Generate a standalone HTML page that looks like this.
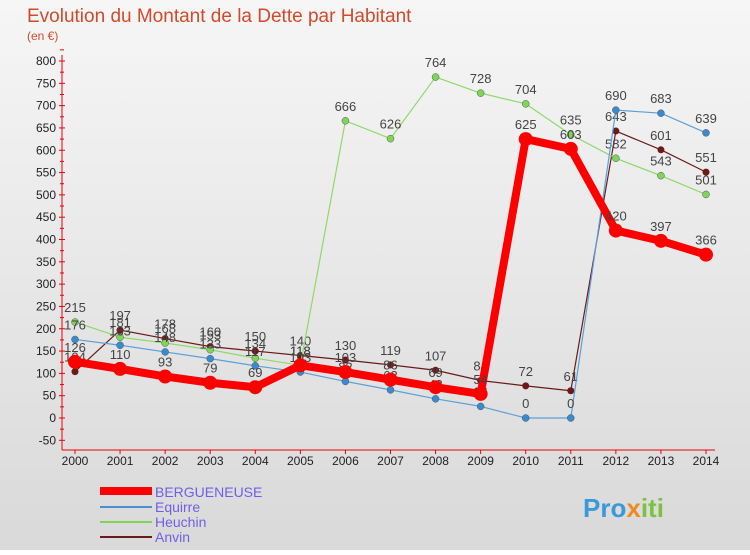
<!DOCTYPE html>
<html><head><meta charset="utf-8"><style>
body{margin:0;width:750px;height:550px;overflow:hidden;font-family:"Liberation Sans",sans-serif}
svg text{font-family:"Liberation Sans",sans-serif}
</style></head><body>
<svg id="c" width="750" height="550">
<defs><linearGradient id="bg" x1="0" y1="0" x2="0" y2="1"><stop offset="0" stop-color="#f6f6f6"/><stop offset="1" stop-color="#d9d9d9"/></linearGradient></defs>
<rect width="750" height="550" fill="url(#bg)"/>
<text x="27" y="22" font-size="19" fill="#d34a2a">Evolution du Montant de la Dette par Habitant</text>
<text x="27" y="40" font-size="12" fill="#d34a2a">(en €)</text>
<g id="axes"></g><g id="series"></g>
<g>
<rect x="100" y="487" width="52" height="8" fill="#f00"/>
<text x="155" y="497" font-size="14" fill="#6f5fe6">BERGUENEUSE</text>
<rect x="100" y="506" width="52" height="2" fill="#4a90d0"/>
<text x="155" y="512" font-size="14" fill="#6f5fe6">Equirre</text>
<rect x="100" y="521" width="52" height="2" fill="#7fd45a"/>
<text x="155" y="527" font-size="14" fill="#6f5fe6">Heuchin</text>
<rect x="100" y="536" width="52" height="2" fill="#6b1a1a"/>
<text x="155" y="542" font-size="14" fill="#6f5fe6">Anvin</text>
</g>
<text x="583" y="517" font-size="26" font-weight="bold" fill="#3a9ad9">Pro<tspan fill="#f08a1c">x</tspan><tspan fill="#7cc242">iti</tspan></text>
</svg>
<script>
const years=["2000","2001","2002","2003","2004","2005","2006","2007","2008","2009","2010","2011","2012","2013","2014"];
const bergueneuse=[126,110,93,79,69,118,103,86,69,54,625,603,420,397,366];
const equirre=[176,163,148,133,117,103,82,63,43,26,0,0,690,683,639];
const heuchin=[215,181,168,153,134,118,666,626,764,728,704,635,582,543,501];
const anvin=[104,197,178,160,150,140,130,119,107,84,72,61,643,601,551];
const yTicks=[-50,0,50,100,150,200,250,300,350,400,450,500,550,600,650,700,750,800];
const NS="http://www.w3.org/2000/svg";
const x=i=>75+i*(631/14);
const y=v=>418-v*(357/800);
function mk(p,t,a){const e=document.createElementNS(NS,t);for(const k in a)e.setAttribute(k,a[k]);p.appendChild(e);return e;}
const ax=document.getElementById('axes'),sg=document.getElementById('series');
mk(ax,'line',{x1:62,y1:55,x2:62,y2:450,stroke:'#e00','stroke-width':1});
mk(ax,'line',{x1:62,y1:450,x2:715,y2:450,stroke:'#e00','stroke-width':1});
yTicks.forEach(v=>{
 const t=mk(ax,'text',{x:56,y:y(v)+4,'font-size':12,fill:'#222','text-anchor':'end'});
 t.textContent=v;
 
 
 mk(ax,'line',{x1:59,y1:y(v),x2:65,y2:y(v),stroke:'#e00'});
 mk(ax,'line',{x1:60,y1:y(v+25),x2:64,y2:y(v+25),stroke:'#e00'});
});
years.forEach((yr,i)=>{
 const t=mk(ax,'text',{x:x(i),y:465,'font-size':12,fill:'#222','text-anchor':'middle'});
 t.textContent=yr;
 
 
 mk(ax,'line',{x1:x(i),y1:450,x2:x(i),y2:454,stroke:'#e00'});
});
function draw(arr,name,col,w,r,dot){
 const g=mk(sg,'g',{});
 
 
 const l=mk(g,'polyline',{points:arr.map((v,i)=>x(i)+','+y(v)).join(' '),fill:'none',stroke:col,'stroke-width':w,'stroke-linejoin':'round'});
 
 
 arr.forEach((v,i)=>{
  const c=mk(g,'circle',{cx:x(i),cy:y(v),r:r,fill:dot,stroke:col==dot?'none':'#555','stroke-width':0.5});
  
  
  const t=mk(g,'text',{x:x(i),y:y(v)-10,'font-size':13,fill:'#444','text-anchor':'middle'});
  t.textContent=v;
  
  
 });
}
draw(anvin,'anvin','#6b1a1a',1.2,3.5,'#6b1a1a');
draw(heuchin,'heuchin','#8fd96a',1.2,3.5,'#7fd45a');
draw(equirre,'equirre','#5aa0d8',1.2,3.5,'#3a8ad0');
draw(bergueneuse,'bergueneuse','#f00',8,7,'#f00');
</script>
</body></html>
